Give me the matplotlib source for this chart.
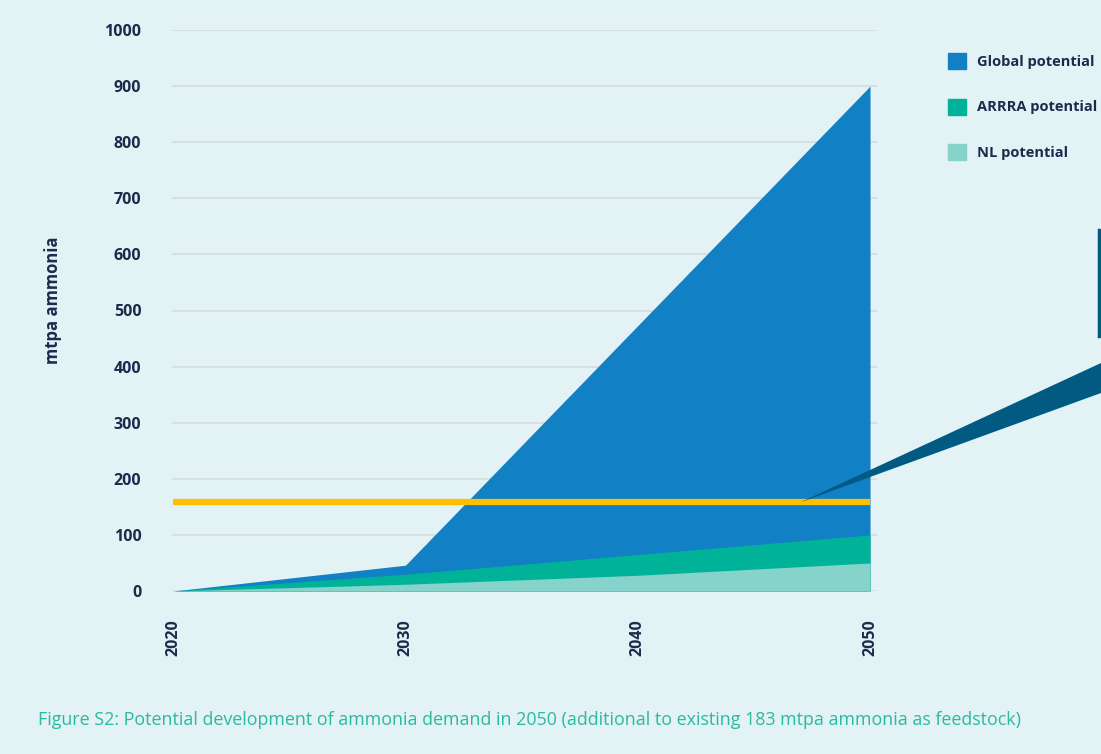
import matplotlib.pyplot as plt
from matplotlib.patches import Patch, Polygon
from matplotlib.lines import Line2D

# data
years = [2020, 2030, 2040, 2050]
global_pot = [0, 46, 473, 900]
arrra_pot = [0, 30, 65, 100]
nl_pot = [0, 12, 28, 50]
feedstock_line = 158
yticks = list(range(0, 1001, 100))

bg = '#e3f2f4'
navy = '#1a2b4c'
c_global = '#1180c4'
c_arrra = '#00b398'
c_nl = '#86d3cb'
c_yellow = '#ffbf00'
c_callout = '#005a82'

plt.rcParams['font.family'] = ['Open Sans', 'DejaVu Sans']

W, H = 1101, 754
fig = plt.figure(figsize=(W / 100, H / 100), dpi=100, facecolor=bg)
ax = fig.add_axes([172 / W, (H - 591) / H, (877 - 172) / W, (591 - 30) / H])
ax.set_facecolor(bg)

ax.fill_between(years, 0, global_pot, color=c_global, lw=0, zorder=2)
ax.fill_between(years, 0, arrra_pot, color=c_arrra, lw=0, zorder=3)
ax.fill_between(years, 0, nl_pot, color=c_nl, lw=0, zorder=4)
ax.plot([years[0], years[-1]], [feedstock_line] * 2, color=c_yellow, lw=4.5,
        solid_capstyle='butt', zorder=6)

ax.set_xlim(2019.95, 2050.3)
ax.set_ylim(0, 1000)
ax.set_yticks(yticks)
ax.set_xticks(years)
ax.set_xticklabels([str(y) for y in years], rotation=90, va='top')
ax.tick_params(length=0, labelsize=11.5, labelcolor=navy)
ax.tick_params(axis='y', pad=22)
ax.tick_params(axis='x', pad=20)
for lab in ax.get_xticklabels() + ax.get_yticklabels():
    lab.set_fontweight('bold')
ax.grid(axis='y', color='#d5dde0', lw=1.3, zorder=1)
ax.grid(axis='x', visible=False)
for s in ax.spines.values():
    s.set_visible(False)

fig.text(53 / W, (H - 300) / H, 'mtpa ammonia', rotation=90, ha='center', va='center',
         fontsize=12, fontweight='bold', color=navy)

handles = [Patch(color=c_global, label='Global potential'),
           Patch(color=c_arrra, label='ARRRA potential'),
           Patch(color=c_nl, label='NL potential')]
leg = fig.legend(handles=handles, loc='upper left', bbox_to_anchor=(942 / W, (H - 47) / H),
                 frameon=False, fontsize=10.5, handlelength=1.25, handleheight=1.3,
                 handletextpad=0.75, labelspacing=2.05, borderaxespad=0)
for t in leg.get_texts():
    t.set_color(navy)
    t.set_fontweight('bold')

# callout wedge pointing at the feedstock line
fig.canvas.draw()
tip = ax.transData.transform((2047, feedstock_line))
tip_fig = fig.transFigure.inverted().transform(tip)
wedge = Polygon([tip_fig, (1.0, (H - 363) / H), (1.0, (H - 393) / H)], closed=True,
                transform=fig.transFigure, color=c_callout, lw=0, zorder=5)
fig.add_artist(wedge)
fig.add_artist(Line2D([1099 / W, 1099 / W], [(H - 230) / H, (H - 336) / H],
                      transform=fig.transFigure, color=c_callout, lw=2.5))

fig.text(38 / W, (H - 720) / H,
         'Figure S2: Potential development of ammonia demand in 2050 '
         '(additional to existing 183 mtpa ammonia as feedstock)',
         ha='left', va='center', fontsize=12.9, color='#2bb9a0')

fig.savefig('out.png', dpi=100, facecolor=bg)
